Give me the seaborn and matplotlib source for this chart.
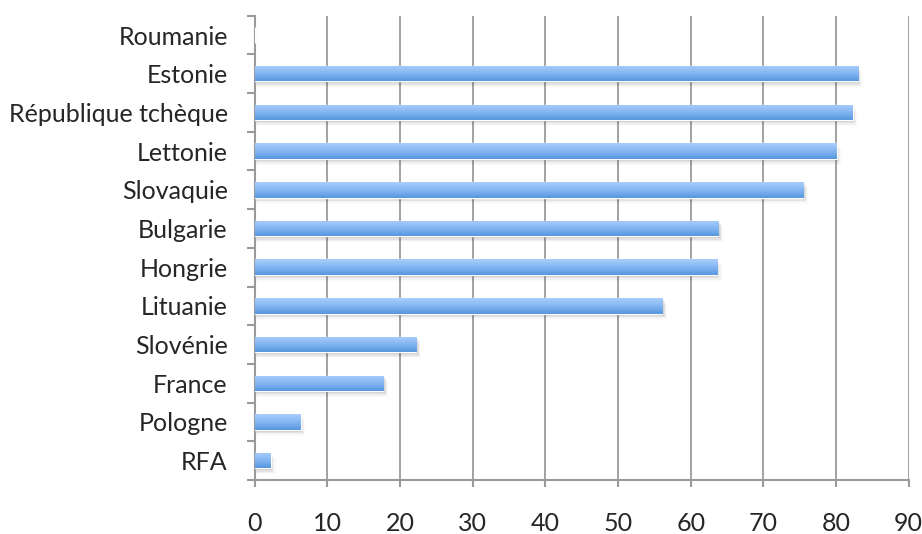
import numpy as np
import pandas as pd
import matplotlib
matplotlib.use("Agg")
import matplotlib.pyplot as plt
import seaborn as sns
from matplotlib.ticker import MultipleLocator, FixedLocator

# data (top to bottom)
pays = ["Roumanie", "Estonie", "République tchèque", "Lettonie", "Slovaquie",
        "Bulgarie", "Hongrie", "Lituanie", "Slovénie", "France", "Pologne", "RFA"]
valeurs = [0.0, 83.0, 82.3, 80.1, 75.5, 63.8, 63.6, 56.1, 22.2, 17.7, 6.3, 2.2]

df = pd.DataFrame({"pays": pays, "valeur": valeurs})

sns.set_style("white")
plt.rcParams["font.family"] = ["Lato", "DejaVu Sans"]

fig = plt.figure(figsize=(9.22, 5.34), dpi=100)
ax = fig.add_axes([0.2764, 0.1011, 0.7092, 0.8695])

sns.barplot(data=df, x="valeur", y="pays", orient="h", width=0.4,
            color="#7fb2ee", saturation=1, ax=ax, zorder=3)

# gradient fill + soft shadow on each bar
grad = np.linspace(0, 1, 64).reshape(-1, 1)
cmap = matplotlib.colors.LinearSegmentedColormap.from_list(
    "bleu", ["#a9cefc", "#85b6f2", "#5697de"])
for p in list(ax.patches):
    x0, y0 = p.get_x(), p.get_y()
    w, h = p.get_width(), p.get_height()
    if w <= 0:
        continue
    for k, a in enumerate([0.09, 0.06, 0.035, 0.02]):
        off = 0.05 + 0.035 * k
        ax.add_patch(plt.Rectangle((x0, y0 + off), w + 0.2 + 0.15 * k, h,
                                   color="black", alpha=a, lw=0, zorder=2))
    im = ax.imshow(grad, cmap=cmap, aspect="auto", zorder=4,
                   extent=[x0, x0 + w, y0 + h, y0])
    im.set_clip_path(p)

ax.set_xlim(0, 90)
ax.set_ylim(len(pays) - 0.5, -0.5)
ax.xaxis.set_major_locator(MultipleLocator(10))
ax.grid(axis="x", color="#9a9a9a", linewidth=1.3, zorder=0)
ax.set_axisbelow(True)

for s in ["top", "right"]:
    ax.spines[s].set_visible(False)
for s in ["left", "bottom"]:
    ax.spines[s].set_color("#9a9a9a")
    ax.spines[s].set_linewidth(1.5)

ax.yaxis.set_minor_locator(FixedLocator(np.arange(-0.5, len(pays), 1)))
ax.tick_params(axis="y", which="major", length=0, pad=19.5, labelsize=18)
ax.tick_params(axis="y", which="minor", left=True, length=6, width=1.5,
               color="#9a9a9a")
ax.tick_params(axis="x", which="major", bottom=True, length=5, width=1.5,
               color="#9a9a9a", pad=18, labelsize=18)
ax.set_xlabel("")
ax.set_ylabel("")

fig.savefig("out.png", dpi=100)
